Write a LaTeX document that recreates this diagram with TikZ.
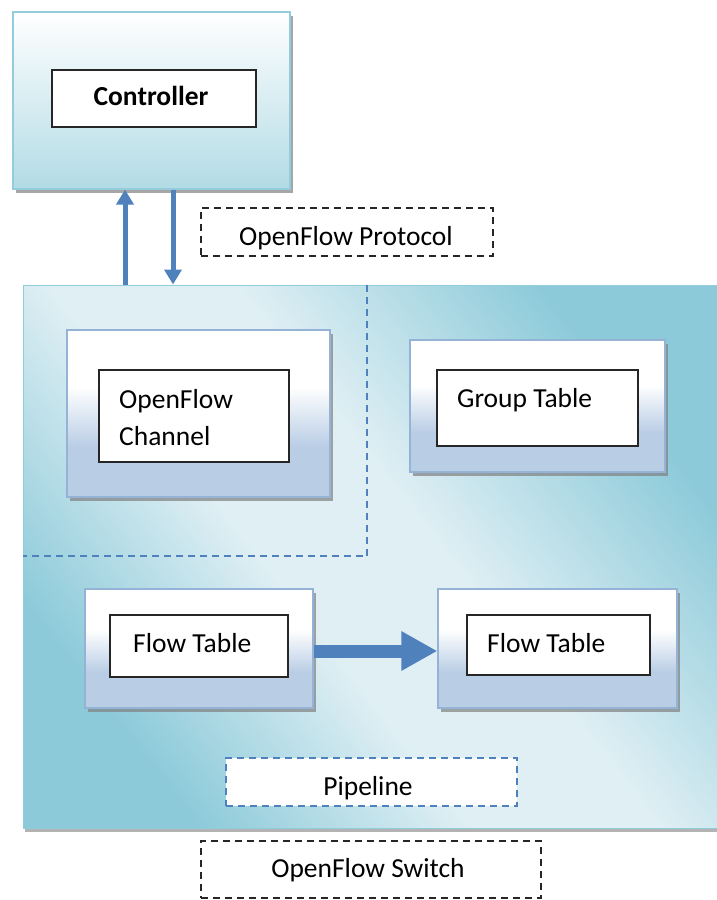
\documentclass[tikz,border=0pt]{standalone}
\usepackage{fontspec}
\setmainfont{Carlito}
\usetikzlibrary{shadows,arrows.meta,calc}

\definecolor{arrowblue}{HTML}{4F81BD}
\definecolor{compedge}{HTML}{95B3D7}
\definecolor{compbot}{HTML}{B9CDE5}
\definecolor{tealedge}{HTML}{93CDDD}
\definecolor{tealbot}{HTML}{B2DBE5}
\definecolor{swdark}{HTML}{8CCAD9}
\definecolor{swlight}{HTML}{DFEFF4}

% white top fading to pale blue at the bottom (path spans 25bp..75bp)
\pgfdeclareverticalshading{compshade}{100bp}{%
  color(0bp)=(compbot); color(25bp)=(compbot); color(40bp)=(compbot);
  color(58bp)=(white); color(100bp)=(white)}

% switch body: wide pale band, teal at both ends
\pgfdeclarehorizontalshading{switchshade}{100bp}{%
  color(0bp)=(swdark); color(26bp)=(swdark); color(43bp)=(swlight);
  color(55bp)=(swlight); color(74bp)=(swdark); color(100bp)=(swdark)}

\tikzset{
  every node/.style={font=\fontsize{27.5}{37}\selectfont, inner sep=0pt},
  boxshadow/.style={drop shadow={shadow xshift=3pt, shadow yshift=-3.5pt,
      fill=black!50, opacity=0.7}},
  compbox/.style={draw=compedge, line width=1.2pt, shading=compshade,
      boxshadow},
  labelbox/.style={draw=black!85, line width=1.6pt, fill=white},
  tag/.style={draw=black!85, line width=1.4pt, dash pattern=on 7pt off 5pt,
      fill=white},
  bluetag/.style={draw=arrowblue, line width=1.4pt, dash pattern=on 7pt off 5pt,
      fill=white},
  link/.style={draw=arrowblue, line width=5pt,
      -{Triangle[width=17pt,length=15pt]}},
  bigarrow/.style={draw=arrowblue, line width=13pt,
      -{Triangle[width=37pt,length=36pt]}},
}

\begin{document}
\begin{tikzpicture}[x=1pt, y=-1pt]
\useasboundingbox (0,0) rectangle (717,900);

% controller
\node[draw=tealedge, line width=1.2pt, top color=white, bottom color=tealbot,
      boxshadow, minimum width=277pt, minimum height=177pt] (ctrl) at (151.5,100.5) {};
\node[labelbox, minimum width=204pt, minimum height=57pt] (ctrlbox) at (154,98.5) {};
\node[anchor=base, font=\fontsize{27.5}{36}\selectfont\bfseries] (ctrltxt) at (151,105) {Controller};

% switch body
\node[draw=tealedge, line width=1pt, shading=switchshade, shading angle=38,
      drop shadow={shadow xshift=2pt, shadow yshift=-4pt, fill=black!50, opacity=0.6},
      minimum width=694pt, minimum height=543pt] (sw) at (370,556.5) {};

% channel region
\coordinate (chcorner) at (367,556);
\draw[arrowblue, line width=1.4pt, dash pattern=on 7pt off 5pt]
  (sw.north -| chcorner) -- (chcorner) -- (sw.west |- chcorner);

% controller <-> switch links
\coordinate (upx) at (125,0);
\coordinate (downx) at (173,0);
\draw[link] (sw.north -| upx) -- (ctrl.south -| upx);
\draw[link] (ctrl.south -| downx) -- (sw.north -| downx);

\node[tag, minimum width=292pt, minimum height=48pt] (proto) at (347,232) {};
\node[anchor=base] (prototxt) at (346,245) {OpenFlow Protocol};

% OpenFlow channel
\node[compbox, minimum width=263pt, minimum height=167pt] (chan) at (198.5,413.5) {};
\node[labelbox, minimum width=190pt, minimum height=92pt] (chanin) at (194,416) {};
\node[anchor=base west, align=left] (chantxt) at (119,445) {OpenFlow\\Channel};

% group table
\node[compbox, minimum width=255pt, minimum height=132pt] (grp) at (537.5,406) {};
\node[labelbox, minimum width=201pt, minimum height=76pt] (grpin) at (537.5,408) {};
\node[anchor=base west] (grptxt) at (457,407) {Group Table};

% flow tables
\node[compbox, minimum width=228pt, minimum height=119pt] (ft1) at (199,648.5) {};
\node[labelbox, minimum width=178pt, minimum height=62pt] (ft1in) at (199,646) {};
\node[anchor=base west] (ft1txt) at (133,652) {Flow Table};

\node[compbox, minimum width=239pt, minimum height=119pt] (ft2) at (557.5,648.5) {};
\node[labelbox, minimum width=183pt, minimum height=60pt] (ft2in) at (558.5,645) {};
\node[anchor=base west] (ft2txt) at (487,652) {Flow Table};

\draw[bigarrow] (ft1.east |- 0,651) -- (ft2.west |- 0,651);

% captions
\node[bluetag, minimum width=291pt, minimum height=48pt] (pipe) at (371.5,782) {};
\node[anchor=base] (pipetxt) at (368,795) {Pipeline};
\node[tag, minimum width=340pt, minimum height=57pt] (swlbl) at (371,869.5) {};
\node[anchor=base] (swtxt) at (368,877) {OpenFlow Switch};
\end{tikzpicture}
\end{document}
